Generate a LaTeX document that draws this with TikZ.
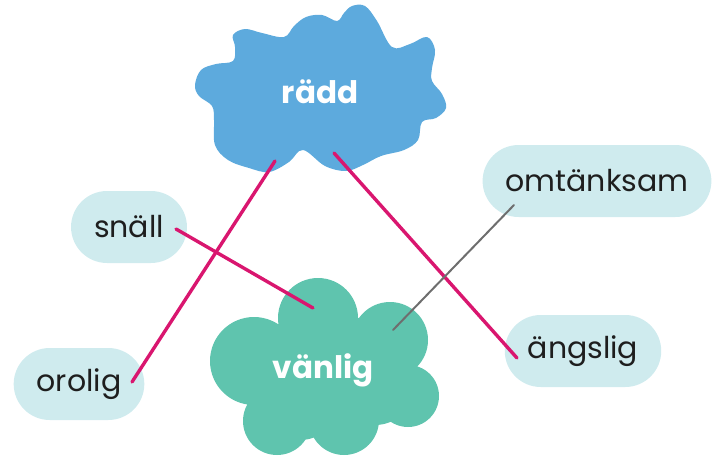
\documentclass[tikz,border=0pt]{standalone}
\usepackage{fontspec}
\setmainfont{Poppins}
\usetikzlibrary{calc}
\definecolor{splatblue}{HTML}{5DAADD}
\definecolor{cloudgreen}{HTML}{5FC4AE}
\definecolor{pillcyan}{HTML}{CFEBEE}
\definecolor{linkpink}{HTML}{D9166F}
\definecolor{linkgray}{HTML}{6E6E6E}
\definecolor{worddark}{HTML}{1E1E1E}

\begin{document}
\begin{tikzpicture}[x=1pt,y=-1pt,line cap=round]
	\tikzstyle{pill}=[fill=pillcyan,rounded corners=36pt,minimum height=72pt,
		inner xsep=23pt,text=worddark,font=\fontsize{30}{36}\selectfont]
	\tikzstyle{bigword}=[text=white,font=\fontsize{31}{36}\selectfont\bfseries]
	\tikzstyle{pinkline}=[draw=linkpink,line width=3.4pt]
	\tikzstyle{grayline}=[draw=linkgray,line width=2pt]
	
	\useasboundingbox (0,0) rectangle (721,458);
	
	% blue splat
	\fill[splatblue] plot[smooth cycle,tension=0.6] coordinates {
		(195,85) (201,70) (216,64) (233,61) (235,47) (233,35) (245,29)
		(262,33) (284,37) (294,26) (306,17) (322,15) (337,21) (344,13)
		(352,6) (365,6) (377,21) (392,47) (410,44) (427,37) (435,50)
		(432,68) (432,81) (442,94) (446,108) (436,118) (422,122)
		(418,140) (404,150) (381,156) (363,165) (346,171) (325,166)
		(303,150) (289,162) (269,172) (249,168) (228,160) (215,145)
		(214,120) (212,106) (199,96)};
	
	% green cloud
	\fill[cloudgreen] (318,318) circle (40) (390,340) circle (38)
		(408,396) circle (31) (344,420) circle (35) (277,421) circle (34)
		(254,361) circle (44) (330,365) circle (55) (375,385) circle (40)
		(300,400) circle (40);
	
	\node[bigword] (radd) at (320,92) {rädd};
	\node[bigword] (vanlig) at (323,370) {vänlig};
	
	\node[pill] (snall) at (129,227) {snäll};
	\node[pill] (orolig) at (79,384) {orolig};
	\node[pill] (omtanksam) at (597,181) {omtänksam};
	\node[pill] (angslig) at (583,351) {ängslig};
	
	\draw[pinkline] ([shift={(-45,69)}]radd.center) -- ([shift={(53,-2)}]orolig.center);
	\draw[pinkline] ([shift={(14,61)}]radd.center) -- ([shift={(-66,7)}]angslig.center);
	\draw[pinkline] ([shift={(47,2)}]snall.center) -- ([shift={(-10,-62)}]vanlig.center);
	\draw[grayline] ([shift={(-83,24)}]omtanksam.center) -- ([shift={(70,-40)}]vanlig.center);
\end{tikzpicture}
\end{document}
